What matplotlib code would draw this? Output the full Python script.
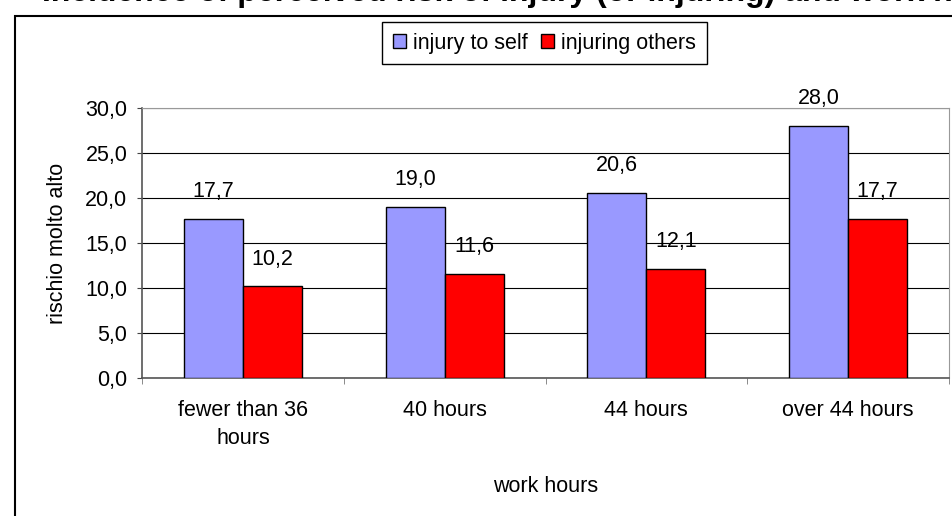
import numpy as np
import matplotlib
matplotlib.use("Agg")
import matplotlib.pyplot as plt
from matplotlib.patches import Rectangle

# Values
categories = ["fewer than 36\nhours", "40 hours", "44 hours", "over 44 hours"]
injury_to_self = [17.7, 19.0, 20.6, 28.0]
injuring_others = [10.2, 11.6, 12.1, 17.7]
series_names = ["injury to self", "injuring others"]
y_ticks = [0, 5, 10, 15, 20, 25, 30]

BLUE = "#9999FF"
RED = "#FF0000"

plt.rcParams.update({
    "font.family": "Liberation Sans",
    "font.size": 15.5,
})

W, H = 952, 516
fig = plt.figure(figsize=(W / 100, H / 100), dpi=100)

# plot area in pixels: x 142..949, y 108..378
ax = fig.add_axes([142 / W, (H - 378) / H, (949 - 142) / W, (378 - 108) / H])

x = np.arange(len(categories))
bw = 0.292
b1 = ax.bar(x - bw / 2, injury_to_self, bw, color=BLUE, edgecolor="black",
            linewidth=1.0, zorder=3, label=series_names[0])
b2 = ax.bar(x + bw / 2, injuring_others, bw, color=RED, edgecolor="black",
            linewidth=1.0, zorder=3, label=series_names[1])

fmt = lambda v: f"{v:.1f}".replace(".", ",")
ax.bar_label(b1, labels=[fmt(v) for v in injury_to_self], padding=12)
ax.bar_label(b2, labels=[fmt(v) for v in injuring_others], padding=12)

ax.set_xlim(-0.5, len(categories) - 0.5)
ax.set_ylim(0, 30)
ax.set_yticks(y_ticks)
ax.set_yticklabels([fmt(v) for v in y_ticks])
ax.yaxis.grid(True, color="black", linewidth=0.8, zorder=0)
ax.set_axisbelow(True)

ax.set_xticks(x)
ax.set_xticklabels(categories, linespacing=1.45)
ax.set_xticks(np.arange(len(categories) + 1) - 0.5, minor=True)
ax.tick_params(axis="x", which="major", length=0, pad=16)
ax.tick_params(axis="x", which="minor", length=4.5, color="#777777", direction="out")
ax.tick_params(axis="y", length=3.6, color="#444444", pad=7)

for side in ("top", "right"):
    ax.spines[side].set_color("#999999")
for side in ("left", "bottom"):
    ax.spines[side].set_color("#555555")
    ax.spines[side].set_linewidth(1.2)

ax.set_xlabel("work hours", labelpad=19)
ax.set_ylabel("rischio molto alto", labelpad=12)

fig.legend(loc="center", bbox_to_anchor=(544.5 / W, 1 - 43 / H), ncol=2,
           frameon=True, fancybox=False, edgecolor="black", framealpha=1,
           handlelength=0.6, handleheight=0.6, handletextpad=0.35,
           columnspacing=0.6, borderpad=0.5, borderaxespad=0)

# outer chart frame (cropped at right and bottom)
fig.add_artist(Rectangle((15 / W, -0.1), 1.2, 0.1 + (H - 16) / H,
                         transform=fig.transFigure, fill=False,
                         edgecolor="black", linewidth=1.5))

# title, mostly cropped off the top of the image
fig.text(42 / W, 1 - 1 / H,
         "Incidence of perceived risk of injury (or injuring) and work hours",
         fontsize=23, fontweight="bold", ha="left", va="baseline")

fig.savefig("out.png", dpi=100)
